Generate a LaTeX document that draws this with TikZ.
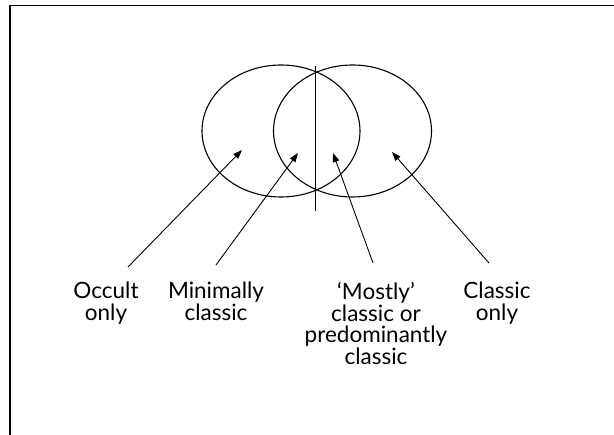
\documentclass[tikz,border=0pt]{standalone}
\usepackage{fontspec}
\setmainfont{Lato}
\usetikzlibrary{arrows.meta}
\tikzset{
  lbl/.style={align=center, inner sep=0pt, anchor=north, font=\fontsize{22.5pt}{21.7pt}\selectfont},
  ptr/.style={line width=0.9pt, -{Triangle[length=9pt,width=6.5pt]}},
  ring/.style={line width=1.1pt},
  frame/.style={line width=1.8pt}
}
\begin{document}
\begin{tikzpicture}[x=1pt,y=-1pt]
\useasboundingbox (0,0) rectangle (614,435);
% frame (cropped on right and bottom)
\draw[frame] (614,5.6) -- (9.6,5.6) -- (9.6,435);
% sets
\draw[ring] (281,131) ellipse [x radius=79pt, y radius=66pt];
\draw[ring] (352.5,131) ellipse [x radius=79pt, y radius=66pt];
\draw[line width=1pt] (315.7,66) coordinate (vt) -- (315.7,211) coordinate (vb);
% labels
\node[lbl] (occ) at (106,282) {Occult\\only};
\node[lbl] (min) at (216,282) {Minimally\\classic};
\node[lbl] (most) at (376,282) {‘Mostly’\\classic or\\predominantly\\classic};
\node[lbl] (cls) at (497,282) {Classic\\only};
% arrow ends
\coordinate (s1) at (128,267); \coordinate (t1) at (242,150);
\coordinate (s2) at (216,265); \coordinate (t2) at (298,153);
\coordinate (s3) at (373,263); \coordinate (t3) at (333,153);
\coordinate (s4) at (489,263); \coordinate (t4) at (392,152);
\draw[ptr] (s1) -- (t1);
\draw[ptr] (s2) -- (t2);
\draw[ptr] (s3) -- (t3);
\draw[ptr] (s4) -- (t4);
\end{tikzpicture}
\end{document}
